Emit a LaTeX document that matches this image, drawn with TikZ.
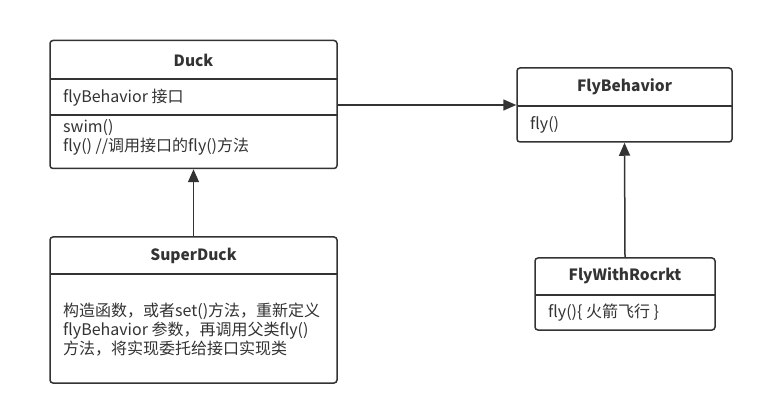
\documentclass[tikz,border=0pt]{standalone}
\usepackage{fontspec}
\setmainfont{Noto Sans CJK SC}
\usetikzlibrary{arrows.meta}
\definecolor{ln}{HTML}{333333}
\begin{document}
\begin{tikzpicture}[x=1pt,y=-1pt,
  umlbox/.style={draw=ln,line width=1.5pt,rounded corners=3pt,fill=white,inner sep=0pt},
  ttl/.style={font=\fontsize{15.5}{18}\selectfont\bfseries,text=ln},
  body/.style={font=\fontsize{16}{18.8}\selectfont,text=ln,anchor=west,align=left,inner sep=0pt},
  sep/.style={draw=ln,line width=1.5pt},
  conn/.style={draw=ln,line width=1.5pt,-{Triangle[length=13pt,width=11pt]}}]
\useasboundingbox (0,0) rectangle (783,419);
% Duck
\node[umlbox,minimum width=287pt,minimum height=128pt] (duck) at (193.5,104.5) {};
\node[ttl] (duckt) at (193.5,60) {Duck};
\draw[sep] (50,79) -- (337,79);
\draw[sep] (50,115) -- (337,115);
\node[body] (duckf) at (63,97.5) {flyBehavior 接口};
\node[body] (duckm) at (63,137) {swim()\\fly() //调用接口的fly()方法};
% SuperDuck
\node[umlbox,minimum width=287pt,minimum height=146pt] (sduck) at (193.5,310) {};
\node[ttl] (sduckt) at (193.5,256) {SuperDuck};
\draw[sep] (50,274) -- (337,274);
\node[body] (sduckb) at (63,329.5) {构造函数，或者set()方法，重新定义\\flyBehavior 参数，再调用父类fly()\\方法，将实现委托给接口实现类};
% FlyBehavior
\node[umlbox,minimum width=215pt,minimum height=74pt] (fb) at (624.5,105) {};
\node[ttl] (fbt) at (624.5,87) {FlyBehavior};
\draw[sep] (517,106) -- (732,106);
\node[body] (fbm) at (530,125) {fly()};
% FlyWithRocrkt
\node[umlbox,minimum width=180pt,minimum height=72pt] (fr) at (625,294) {};
\node[ttl] (frt) at (625,276) {FlyWithRocrkt};
\draw[sep] (535,295) -- (715,295);
\node[body] (frm) at (548,313) {fly()\{ 火箭飞行 \}};
% connectors
\draw[conn] (duck.east |- 0,105) -- (fb.west |- 0,105);
\draw[conn] (sduck.north) -- (duck.south);
\draw[conn] (fr.north) -- (fb.south);
\end{tikzpicture}
\end{document}
